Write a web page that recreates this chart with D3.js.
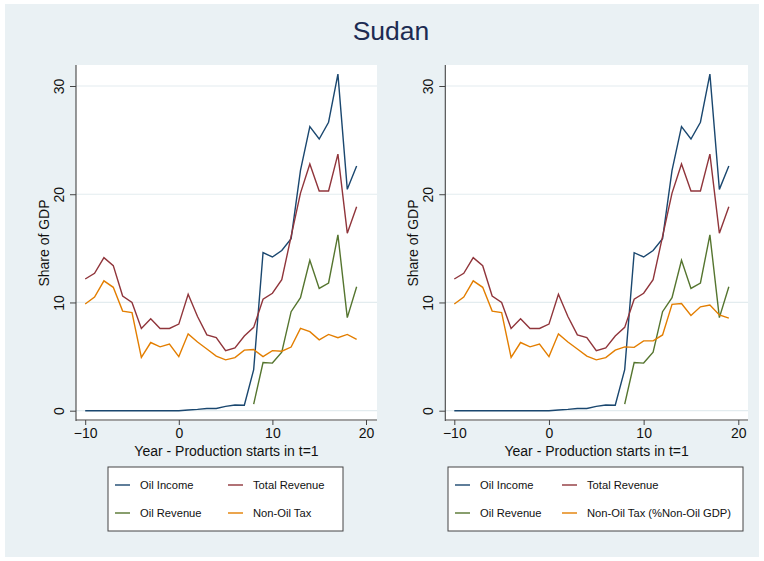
<!DOCTYPE html>
<html>
<head>
<meta charset="utf-8">
<script src="https://cdn.jsdelivr.net/npm/d3@7"></script>
<style>
  html, body { margin: 0; padding: 0; background: #ffffff; }
  svg { display: block; font-family: "Liberation Sans", Arial, Helvetica, sans-serif; }
</style>
</head>
<body>
<svg id="chart" width="764" height="561"></svg>
<script>
// Years relative to the start of oil production (t = 1)
const years = d3.range(-10, 20);

// Shares of GDP (%)
const oilIncome = [0, 0, 0, 0, 0, 0, 0, 0, 0, 0, 0,
  0.07, 0.12, 0.2, 0.2, 0.4, 0.52, 0.5, 3.8, 14.6, 14.2, 14.8, 15.9,
  22.2, 26.25, 25.1, 26.65, 31.1, 20.45, 22.6];
const totalRevenue = [12.17, 12.7, 14.14, 13.4, 10.6, 10.0, 7.6, 8.5, 7.6, 7.6, 8.0,
  10.75, 8.7, 7.0, 6.75, 5.55, 5.8, 6.9, 7.7, 10.3, 10.85, 12.1, 16.1,
  20.1, 22.8, 20.3, 20.3, 23.7, 16.4, 18.85];
const oilRevenue = [null, null, null, null, null, null, null, null, null, null, null,
  null, null, null, null, null, null, null, 0.6, 4.45, 4.4, 5.4, 9.15,
  10.45, 13.9, 11.3, 11.8, 16.25, 8.6, 11.45];
const nonOilTax = [9.86, 10.5, 12.0, 11.4, 9.2, 9.06, 4.93, 6.3, 5.9, 6.15, 5.0,
  7.1, 6.35, 5.7, 5.05, 4.7, 4.9, 5.6, 5.65, 5.0, 5.55, 5.5, 5.88,
  7.6, 7.3, 6.55, 7.05, 6.75, 7.05, 6.6];
// Non-oil tax as a share of non-oil GDP
const nonOilTaxNonOilGDP = [9.86, 10.5, 12.0, 11.4, 9.2, 9.06, 4.93, 6.3, 5.9, 6.15, 5.0,
  7.1, 6.35, 5.7, 5.05, 4.7, 4.9, 5.6, 5.9, 5.85, 6.45, 6.45, 7.0,
  9.83, 9.9, 8.8, 9.6, 9.77, 8.85, 8.55];

const xTicks = [-10, 0, 10, 20];
const yTicks = [0, 10, 20, 30];

const colors = {
  income: "#1a476f",
  total: "#90353b",
  oil: "#55752f",
  tax: "#e37e00"
};

const svg = d3.select("#chart");

// Graph region background
svg.append("rect")
  .attr("x", 5).attr("y", 4).attr("width", 754).attr("height", 553)
  .attr("fill", "#eaf1f4");

svg.append("text")
  .attr("x", 391).attr("y", 40)
  .attr("text-anchor", "middle")
  .attr("font-size", 26.5)
  .attr("fill", "#1c2b52")
  .text("Sudan");

const panels = [
  {
    left: 76, right: 377, x0: 85.2, x20: 366,
    taxSeries: nonOilTax,
    legend: { x: 108, w: 235, col2: 113 },
    labels: ["Oil Income", "Total Revenue", "Oil Revenue", "Non-Oil Tax"]
  },
  {
    left: 445.3, right: 748, x0: 454.3, x20: 738.3,
    taxSeries: nonOilTaxNonOilGDP,
    legend: { x: 448, w: 295, col2: 107 },
    labels: ["Oil Income", "Total Revenue", "Oil Revenue", "Non-Oil Tax (%Non-Oil GDP)"]
  }
];

const plotTop = 65, plotBottom = 421;
const y = d3.scaleLinear().domain([0, 30]).range([410.7, 86]);

panels.forEach(p => {
  const x = d3.scaleLinear().domain([-10, 20]).range([p.x0, p.x20]);
  const g = svg.append("g");

  // Plot region
  g.append("rect")
    .attr("x", p.left).attr("y", plotTop)
    .attr("width", p.right - p.left).attr("height", plotBottom - plotTop)
    .attr("fill", "#ffffff");

  // Horizontal grid lines
  g.selectAll("line.grid").data(yTicks).join("line")
    .attr("class", "grid")
    .attr("x1", p.left).attr("x2", p.right)
    .attr("y1", d => y(d)).attr("y2", d => y(d))
    .attr("stroke", "#e3ecef").attr("stroke-width", 1.2);

  // Y axis
  const yAxis = g.append("g")
    .attr("transform", `translate(${p.left},0)`)
    .call(d3.axisLeft(y).tickValues(yTicks).tickSize(6).tickPadding(4).tickFormat(d3.format("d")));
  yAxis.select(".domain").attr("d", `M0,${plotTop}V${plotBottom}`).attr("stroke", "#444").attr("stroke-width", 1.1);
  yAxis.selectAll(".tick line").attr("stroke", "#444");
  yAxis.selectAll(".tick text")
    .attr("font-size", 14).attr("fill", "#111")
    .attr("transform", "rotate(-90)")
    .attr("x", 0).attr("y", -12)
    .attr("dy", "0")
    .attr("text-anchor", "middle")
    .attr("dominant-baseline", "auto");

  // X axis
  const xAxis = g.append("g")
    .attr("transform", `translate(0,${plotBottom - 1})`)
    .call(d3.axisBottom(x).tickValues(xTicks).tickSize(5).tickPadding(3).tickFormat(d3.format("d")));
  xAxis.select(".domain").attr("d", `M${p.left},0H${p.right}`).attr("stroke", "#444").attr("stroke-width", 1.1);
  xAxis.selectAll(".tick line").attr("stroke", "#444");
  xAxis.selectAll(".tick text").attr("font-size", 14).attr("fill", "#111");

  // Axis titles
  g.append("text")
    .attr("transform", `translate(${p.left - 27},${(plotTop + plotBottom) / 2}) rotate(-90)`)
    .attr("text-anchor", "middle")
    .attr("font-size", 14).attr("fill", "#111")
    .text("Share of GDP");
  g.append("text")
    .attr("x", (p.left + p.right) / 2).attr("y", 456)
    .attr("text-anchor", "middle")
    .attr("font-size", 14).attr("fill", "#111")
    .text("Year - Production starts in t=1");

  // Series lines
  const series = [
    { values: oilIncome, color: colors.income },
    { values: totalRevenue, color: colors.total },
    { values: oilRevenue, color: colors.oil },
    { values: p.taxSeries, color: colors.tax }
  ];
  const line = d3.line()
    .defined(d => d.v !== null)
    .x(d => x(d.t))
    .y(d => y(d.v));
  series.forEach(s => {
    g.append("path")
      .datum(years.map((t, i) => ({ t, v: s.values[i] })))
      .attr("d", line)
      .attr("fill", "none")
      .attr("stroke", s.color)
      .attr("stroke-width", 1.4)
      .attr("stroke-linejoin", "miter");
  });

  // Legend
  const L = p.legend;
  const lg = g.append("g").attr("transform", `translate(${L.x},467)`);
  lg.append("rect")
    .attr("width", L.w).attr("height", 64)
    .attr("fill", "#ffffff").attr("stroke", "#444").attr("stroke-width", 1);
  const entries = [
    { label: p.labels[0], color: colors.income, col: 0, row: 0 },
    { label: p.labels[1], color: colors.total, col: 1, row: 0 },
    { label: p.labels[2], color: colors.oil, col: 0, row: 1 },
    { label: p.labels[3], color: colors.tax, col: 1, row: 1 }
  ];
  entries.forEach(e => {
    const ex = 7 + e.col * L.col2;
    const ey = 18 + e.row * 28;
    lg.append("line")
      .attr("x1", ex).attr("x2", ex + 15)
      .attr("y1", ey).attr("y2", ey)
      .attr("stroke", e.color).attr("stroke-width", 1.4);
    lg.append("text")
      .attr("x", ex + 25).attr("y", ey + 4)
      .attr("font-size", 11.2).attr("fill", "#111")
      .text(e.label);
  });
});
</script>
</body>
</html>
